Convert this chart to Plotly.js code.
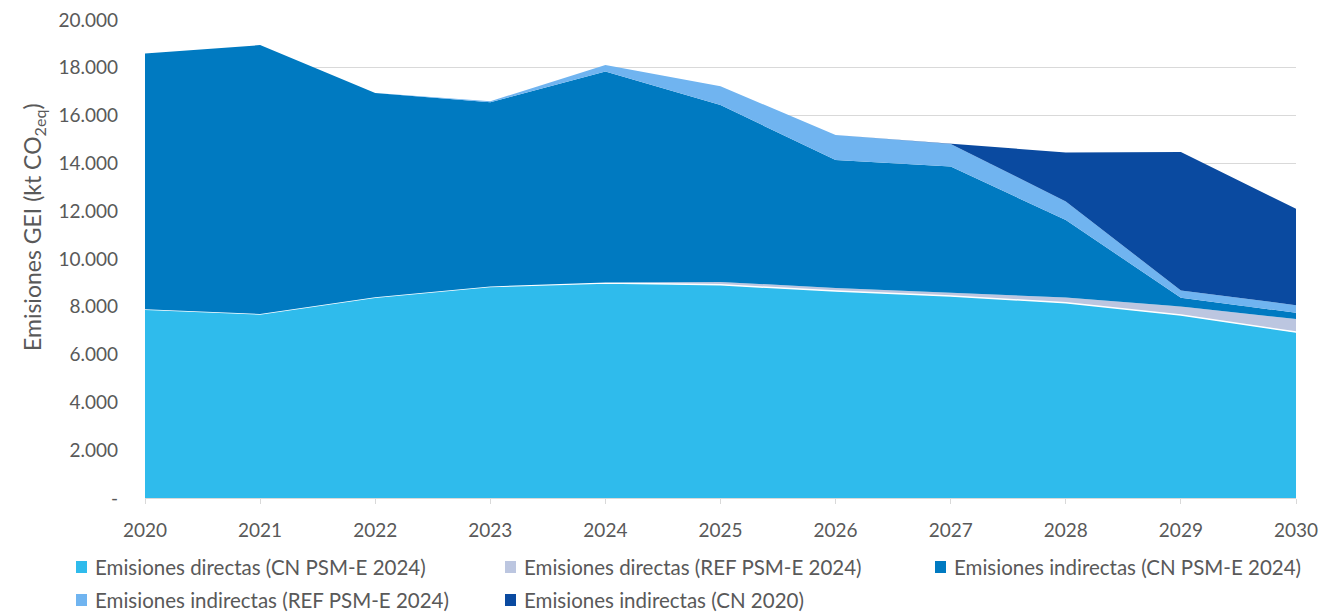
<!DOCTYPE html>
<html>
<head>
<meta charset="utf-8">
<script src="https://cdn.plot.ly/plotly-3.0.1.min.js"></script>
<style>
  html, body { margin: 0; padding: 0; background: #ffffff; }
  #chart { width: 1331px; height: 612px; }
</style>
</head>
<body>
<div id="chart"></div>
<script>
// ---- Data (kt CO2eq), stacked increments ----
const years = [2020, 2021, 2022, 2023, 2024, 2025, 2026, 2027, 2028, 2029, 2030];
const directasCN      = [7900, 7700, 8400, 8850, 9000, 8920, 8660, 8450, 8170, 7660, 6940];
const directasREF     = [0, 0, 0, 0, 20, 120, 130, 130, 220, 350, 550];
const indirectasCN    = [10700, 11250, 8550, 7710, 8830, 7400, 5350, 5290, 3240, 370, 260];
const indirectasREF   = [0, 0, 0, 40, 270, 790, 1050, 940, 780, 300, 320];
const indirectasCN2020 = [0, 0, 0, 0, 0, 0, 0, 0, 2050, 5800, 4030];

const seriesNames = [
  "Emisiones directas (CN PSM-E 2024)",
  "Emisiones directas (REF PSM-E 2024)",
  "Emisiones indirectas (CN PSM-E 2024)",
  "Emisiones indirectas (REF PSM-E 2024)",
  "Emisiones indirectas (CN 2020)"
];
const seriesColors = ["#2FBBEC", "#BCC6E0", "#007AC1", "#70B4F0", "#0A4AA0"];
const seriesValues = [directasCN, directasREF, indirectasCN, indirectasREF, indirectasCN2020];

const yTickVals = [0, 2000, 4000, 6000, 8000, 10000, 12000, 14000, 16000, 18000, 20000];
const yTickText = ["-", "2.000", "4.000", "6.000", "8.000", "10.000", "12.000", "14.000", "16.000", "18.000", "20.000"];
const yTitle = "Emisiones GEI (kt CO<sub>2eq</sub>)";

// ---- Layout geometry (pixels) ----
const W = 1331, H = 612;
const mL = 145, mR = 35, mT = 20, mB = 114;
const pw = W - mL - mR, ph = H - mT - mB;
const px2x = p => (p - mL) / pw;
const py2y = p => (H - mB - p) / ph;

const FONT = "Lato, 'Open Sans', sans-serif";
const TXT = "#595959";

const traces = seriesValues.map((vals, i) => ({
  type: "scatter",
  mode: "lines",
  x: years,
  y: vals,
  name: seriesNames[i],
  stackgroup: "one",
  fillcolor: seriesColors[i],
  line: i === 0 ? {color: "#ffffff", width: 1.5} : {color: seriesColors[i], width: 0},
  showlegend: false,
  hoverinfo: "skip"
}));

// Custom legend (positions as in reference)
const legendCols = [76, 505, 935];
const legendRows = [567, 600];
const shapes = [];
const annotations = [];
seriesNames.forEach((name, i) => {
  const col = i % 3, row = Math.floor(i / 3);
  const x0 = legendCols[col], yc = legendRows[row];
  shapes.push({
    type: "rect", xref: "paper", yref: "paper",
    x0: px2x(x0), x1: px2x(x0 + 11),
    y0: py2y(yc + 6), y1: py2y(yc - 6),
    fillcolor: seriesColors[i], line: {width: 0}
  });
  annotations.push({
    xref: "paper", yref: "paper",
    x: px2x(x0 + 17), y: py2y(yc),
    xanchor: "left", yanchor: "middle",
    text: name, showarrow: false,
    font: {family: FONT, size: 20.5, color: TXT}
  });
});
annotations.push({
  xref: "paper", yref: "paper",
  x: px2x(33), y: py2y(227),
  xanchor: "center", yanchor: "middle",
  text: yTitle, showarrow: false, textangle: -90,
  font: {family: FONT, size: 23, color: TXT}
});

const layout = {
  width: W, height: H,
  margin: {l: mL, r: mR, t: mT, b: mB, pad: 0},
  paper_bgcolor: "#ffffff",
  plot_bgcolor: "#ffffff",
  showlegend: false,
  font: {family: FONT, size: 19, color: TXT},
  xaxis: {
    range: [2020, 2030],
    tickvals: years,
    ticktext: years.map(String),
    showgrid: false,
    zeroline: false,
    showline: true,
    linecolor: "#D9D9D9",
    linewidth: 1,
    ticks: "outside",
    ticklen: 5,
    tickcolor: "#D9D9D9",
    ticklabelstandoff: 10,
    tickfont: {family: FONT, size: 19, color: TXT},
    fixedrange: true
  },
  yaxis: {
    range: [0, 20000],
    tickvals: yTickVals,
    ticktext: yTickText,
    showgrid: true,
    gridcolor: "#D9D9D9",
    gridwidth: 1,
    zeroline: false,
    showline: false,
    ticks: "",
    ticklabelstandoff: 26,
    tickfont: {family: FONT, size: 19, color: TXT},
    fixedrange: true
  },
  shapes: shapes,
  annotations: annotations
};

Plotly.newPlot("chart", traces, layout, {staticPlot: true, displayModeBar: false});
</script>
</body>
</html>
